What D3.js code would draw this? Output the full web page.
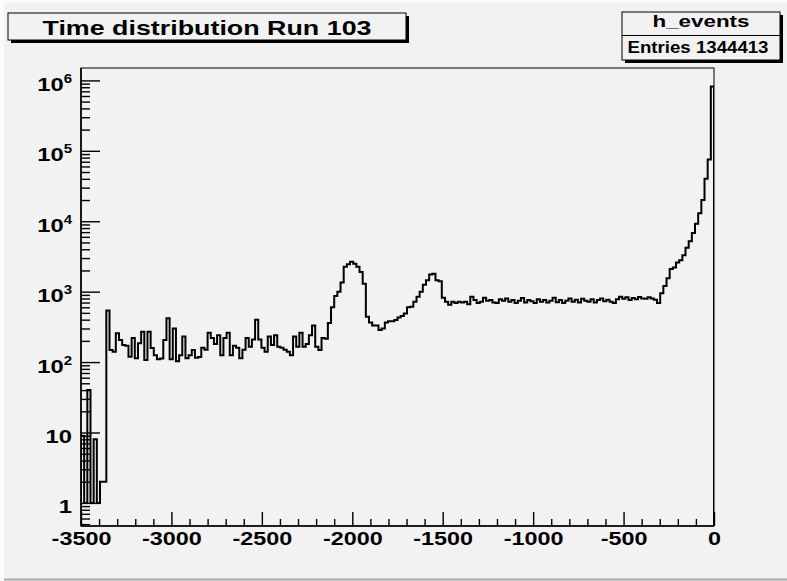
<!DOCTYPE html>
<html>
<head>
<meta charset="utf-8">
<script src="https://cdn.jsdelivr.net/npm/d3@7"></script>
<style>
  body { margin: 0; background: #fbfbfb; }
  svg text { font-family: "Liberation Sans", Arial, Helvetica, sans-serif; font-weight: bold; fill: #000; }
</style>
</head>
<body>
<svg id="c" width="787" height="581"></svg>
<script>
// Histogram definition
const histTitle = "Time distribution Run 103";
const histName = "h_events";
const entries = 1344413;
const xMin = -3500, xMax = 0, nBins = 200;

// Axis ticks
const xMajorTicks = [-3500, -3000, -2500, -2000, -1500, -1000, -500, 0];
const xMinorStep = 100;
const yDecades = [1, 10, 100, 1e3, 1e4, 1e5, 1e6];
const yRange = [0.47, 1.5e6];

// Bin contents, 200 bins of 17.5 from -3500 to 0
const counts = [
  9, 1, 40, 1, 8, 1, 2, 2, 540, 148,
  140, 257, 205, 175, 170, 119, 220, 113, 185, 270,
  107, 270, 158, 125, 110, 112, 205, 420, 110, 300,
  103, 125, 230, 113, 125, 148, 115, 118, 160, 150,
  260, 220, 180, 240, 125, 220, 260, 125, 170, 160,
  113, 150, 220, 165, 210, 400, 210, 160, 140, 230,
  175, 240, 165, 160, 150, 140, 125, 230, 165, 260,
  165, 180, 240, 330, 165, 148, 220, 215, 360, 600,
  870, 1000, 1350, 2250, 2450, 2650, 2500, 2250, 1900, 1300,
  440, 365, 330, 330, 285, 300, 365, 380, 380, 395,
  430, 450, 490, 600, 610, 720, 850, 1000, 1250, 1450,
  1750, 1800, 1450, 1400, 820, 720, 650, 720, 690, 720,
  700, 720, 660, 850, 760, 690, 720, 820, 740, 760,
  700, 690, 780, 740, 800, 720, 760, 690, 740, 810,
  700, 760, 730, 690, 780, 720, 760, 700, 740, 820,
  710, 760, 690, 740, 800, 720, 770, 700, 790, 740,
  720, 780, 700, 760, 800, 730, 770, 720, 690, 780,
  850, 790, 830, 760, 810, 780, 840, 800, 790, 830,
  800, 770, 690, 950, 1200, 1550, 2100, 2200, 2600, 2800,
  3300, 4200, 5200, 6800, 9200, 13000, 20000, 40000, 75000, 820000
];

const W = 787, H = 581;
const frame = { left: 81, right: 714, top: 68, bottom: 526 };
const bg = "#f2f2f2";

const svg = d3.select("#c");

// Canvas
svg.append("rect").attr("x", 4).attr("y", 3).attr("width", W - 4).attr("height", H - 5).attr("fill", bg);
svg.append("line").attr("x1", 4).attr("x2", W).attr("y1", H - 1.5).attr("y2", H - 1.5)
  .attr("stroke", "#a9a9a9").attr("stroke-width", 2);

const x = d3.scaleLinear().domain([xMin, xMax]).range([frame.left, frame.right]);
const y = d3.scaleLog().domain(yRange).range([frame.bottom, frame.top]);

// Clip region for the histogram
svg.append("clipPath").attr("id", "frameClip")
  .append("rect")
  .attr("x", frame.left).attr("y", frame.top)
  .attr("width", frame.right - frame.left).attr("height", frame.bottom - frame.top);

// Histogram outline as a step path
const binW = (xMax - xMin) / nBins;
const yFloor = frame.bottom + 5;
const pts = [[x(xMin), yFloor]];
counts.forEach((c, i) => {
  const yy = c > 0 ? y(c) : yFloor;
  pts.push([x(xMin + i * binW), yy]);
  pts.push([x(xMin + (i + 1) * binW), yy]);
});
pts.push([x(xMax), yFloor]);

svg.append("path")
  .attr("clip-path", "url(#frameClip)")
  .attr("d", d3.line()(pts))
  .attr("fill", "none")
  .attr("stroke", "#000")
  .attr("stroke-width", 2)
  .attr("stroke-linejoin", "miter");

// X axis: major ticks with labels, minor ticks every 100
const xMinor = d3.range(xMin, xMax, xMinorStep).filter(v => v % 500 !== 0);
svg.append("g")
  .attr("transform", `translate(0,${frame.bottom})`)
  .call(d3.axisBottom(x).tickValues(xMinor).tickSizeInner(-7).tickSizeOuter(0).tickFormat(""))
  .call(g => g.select(".domain").remove())
  .call(g => g.selectAll(".tick line").attr("stroke", "#000").attr("stroke-width", 1.4));

const gx = svg.append("g")
  .attr("transform", `translate(0,${frame.bottom})`)
  .call(d3.axisBottom(x).tickValues(xMajorTicks).tickSizeInner(-14).tickSizeOuter(0).tickFormat(d3.format("d")))
  .call(g => g.select(".domain").remove())
  .call(g => g.selectAll(".tick line").attr("stroke", "#000").attr("stroke-width", 1.4));
gx.selectAll(".tick text")
  .attr("y", 19).attr("dy", 0)
  .attr("font-size", 18)
  .attr("font-family", "Liberation Sans, Arial, sans-serif")
  .attr("font-weight", "bold")
  .attr("fill", "#000")
  .attr("transform", "scale(1.3,1)")
  .text(d => d === 0 ? "0" : "-" + Math.abs(d));

// Y axis: decade ticks with labels, minor ticks 2..9
const yMinor = [];
for (let e = -1; e <= 6; e++) {
  for (let m = 2; m <= 9; m++) {
    const v = m * Math.pow(10, e);
    if (v >= yRange[0] && v <= yRange[1]) yMinor.push(v);
  }
}
svg.append("g")
  .attr("transform", `translate(${frame.left},0)`)
  .call(d3.axisLeft(y).tickValues(yMinor).tickSizeInner(-9).tickSizeOuter(0).tickFormat(""))
  .call(g => g.select(".domain").remove())
  .call(g => g.selectAll(".tick line").attr("stroke", "#000").attr("stroke-width", 1.4));

const gy = svg.append("g")
  .attr("transform", `translate(${frame.left},0)`)
  .call(d3.axisLeft(y).tickValues(yDecades).tickSizeInner(-19).tickSizeOuter(0).tickFormat(""))
  .call(g => g.select(".domain").remove())
  .call(g => g.selectAll(".tick line").attr("stroke", "#000").attr("stroke-width", 1.4));

gy.selectAll(".tick").each(function (d) {
  const t = d3.select(this).append("text")
    .attr("text-anchor", "end")
    .attr("font-size", 19)
    .attr("transform", "translate(-9,10) scale(1.25,1)");
  const exp = Math.round(Math.log10(d));
  if (exp < 2) {
    t.text(String(d));
  } else {
    t.append("tspan").text("10");
    t.append("tspan").attr("font-size", 12).attr("dy", -8).text(String(exp));
  }
});

// Frame and axis lines
svg.append("rect")
  .attr("x", frame.left).attr("y", frame.top)
  .attr("width", frame.right - frame.left).attr("height", frame.bottom - frame.top)
  .attr("fill", "none").attr("stroke", "#000").attr("stroke-width", 1);
svg.append("line").attr("x1", frame.left).attr("x2", frame.right)
  .attr("y1", frame.bottom).attr("y2", frame.bottom).attr("stroke", "#000").attr("stroke-width", 1.6);
svg.append("line").attr("x1", frame.left).attr("x2", frame.left)
  .attr("y1", frame.top).attr("y2", frame.bottom).attr("stroke", "#000").attr("stroke-width", 1.6);

// Boxed label with drop shadow
function shadowBox(bx, by, bw, bh) {
  svg.append("rect").attr("x", bx + 3).attr("y", by + 3).attr("width", bw).attr("height", bh).attr("fill", "#000");
  svg.append("rect").attr("x", bx).attr("y", by).attr("width", bw).attr("height", bh)
    .attr("fill", bg).attr("stroke", "#000").attr("stroke-width", 1);
}

// Title box
shadowBox(8, 13, 398, 27);
svg.append("text")
  .attr("x", 207).attr("y", 35)
  .attr("text-anchor", "middle")
  .attr("font-size", 21)
  .attr("textLength", 329).attr("lengthAdjust", "spacingAndGlyphs")
  .text(histTitle);

// Statistics box
shadowBox(622, 12, 158, 48);
svg.append("line").attr("x1", 622).attr("x2", 780).attr("y1", 35.5).attr("y2", 35.5)
  .attr("stroke", "#000").attr("stroke-width", 1);
svg.append("text")
  .attr("x", 701).attr("y", 27)
  .attr("text-anchor", "middle")
  .attr("font-size", 17)
  .attr("textLength", 97).attr("lengthAdjust", "spacingAndGlyphs")
  .text(histName);
svg.append("text")
  .attr("x", 698).attr("y", 53)
  .attr("text-anchor", "middle")
  .attr("font-size", 16)
  .attr("textLength", 141).attr("lengthAdjust", "spacingAndGlyphs")
  .text("Entries " + entries);
</script>
</body>
</html>
